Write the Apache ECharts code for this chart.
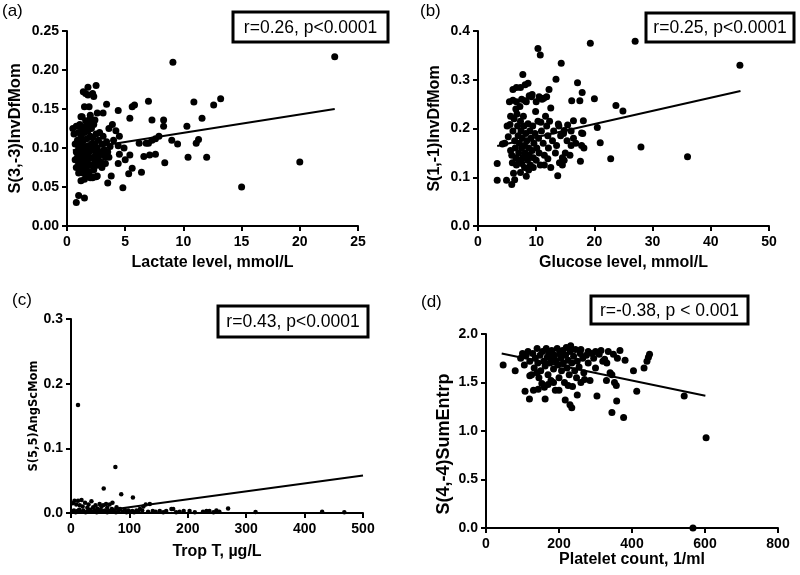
<!DOCTYPE html>
<html><head><meta charset="utf-8">
<script src="https://cdn.jsdelivr.net/npm/echarts@6/dist/echarts.min.js"></script>
<style>html,body{margin:0;padding:0;background:#fff}#c{width:800px;height:575px}</style>
</head><body><div id="c"></div>
<script>
// ---- Panel (a): Lactate vs S(3,-3)InvDfMom ----
const lactatePoints = [
[9.1,0.210],[23.0,0.217],[20.0,0.082],[15.0,0.050],
[13.2,0.163],[12.6,0.155],[11.6,0.138],[10.9,0.159],[11.3,0.111],[11.1,0.106],[12.0,0.088],[10.4,0.088],[9.5,0.105],[10.3,0.128],[9.0,0.110],[8.4,0.081],[8.3,0.128],[8.3,0.136],[7.6,0.092],[7.1,0.091],[6.6,0.089],[6.4,0.069],[6.2,0.106],[7.0,0.106],[7.3,0.110],[7.0,0.160],[7.3,0.136],[7.9,0.115],[7.6,0.112],[6.8,0.106],
[5.6,0.153],[5.8,0.155],[5.4,0.138],[4.4,0.148],[3.4,0.156],[3.1,0.145],[4.8,0.049],[5.4,0.091],[5.6,0.074],[5.3,0.067],[4.4,0.080],[4.5,0.092],[4.4,0.103],[3.8,0.064],[3.5,0.055],[4.0,0.110],[4.2,0.122],[3.6,0.125],[3.9,0.130],[4.5,0.115],[4.9,0.100],[5.0,0.085],[3.3,0.088],[3.0,0.075],
[1.0,0.039],[1.5,0.036],[0.8,0.030],[2.5,0.063],[2.2,0.062],
[1.4,0.172],[1.8,0.178],[2.5,0.180],[1.6,0.170],[1.8,0.168],[2.2,0.170],[2.3,0.166],[1.5,0.153],[1.9,0.153],[1.2,0.140],[2.0,0.142],[2.6,0.145],[1.6,0.135],[2.4,0.136],
[0.6,0.118],[0.7,0.105],[0.8,0.095],[0.7,0.085],[0.8,0.075],[0.9,0.110],[0.9,0.088],[1.0,0.120],[1.0,0.100],[1.0,0.080],[1.0,0.068],[1.1,0.130],[1.1,0.092],[1.1,0.073],[1.2,0.115],[1.2,0.105],[1.2,0.085],[1.2,0.058],[1.3,0.125],[1.3,0.097],[1.3,0.078],[1.4,0.110],[1.4,0.090],[1.4,0.068],[1.5,0.120],[1.5,0.102],[1.5,0.083],[1.5,0.060],[1.6,0.128],[1.6,0.095],[1.6,0.075],[1.7,0.112],[1.7,0.088],[1.7,0.065],[1.8,0.122],[1.8,0.103],[1.8,0.080],[1.9,0.132],[1.9,0.095],[1.9,0.070],[2.0,0.115],[2.0,0.087],[2.0,0.062],[2.1,0.125],[2.1,0.105],[2.1,0.078],[2.2,0.097],[2.2,0.113],[2.3,0.130],[2.3,0.088],[2.3,0.072],[2.4,0.105],[2.4,0.082],[2.5,0.118],[2.5,0.093],[2.6,0.100],[2.6,0.078],[2.7,0.110],[2.7,0.088],[2.8,0.120],[2.8,0.095],[2.9,0.082],[3.0,0.105],[3.0,0.092],[3.1,0.115],[3.2,0.098],[3.3,0.080],[3.4,0.108],[3.5,0.095],[3.6,0.088],[3.7,0.102],[2.2,0.063],[2.6,0.064],[1.3,0.140],[0.8,0.128],[2.0,0.138],[0.5,0.125]
];
const lactateFit = [[0.5,0.097],[23.0,0.150]];

// ---- Panel (b): Glucose vs S(1,-1)InvDfMom ----
const glucosePoints = [
[19.3,0.375],[27.0,0.379],[45.0,0.330],[36.0,0.142],[28.0,0.162],[22.8,0.138],[21.0,0.171],[20.5,0.202],[20.0,0.261],[24.9,0.236],[23.7,0.247],[17.1,0.294],[17.9,0.274],[10.3,0.364],[10.7,0.351],[14.3,0.334],[13.4,0.301],[7.7,0.311],
[16.1,0.257],[17.5,0.257],[12.2,0.280],[12.5,0.242],[13.8,0.209],[15.4,0.207],[16.4,0.216],[18.1,0.216],[17.8,0.191],[14.8,0.196],
[5.2,0.183],[4.6,0.170],[4.2,0.168],[3.3,0.128],[3.3,0.094],[4.9,0.094],[5.8,0.085],[6.1,0.108],[8.3,0.102],[13.7,0.103],
[5.5,0.208],[5.0,0.205],[5.6,0.155],[5.8,0.145],[5.9,0.130],[6.0,0.195],[6.2,0.220],[6.3,0.175],[6.4,0.160],[6.5,0.140],[6.6,0.125],[6.7,0.230],[6.8,0.205],[6.9,0.185],[7.0,0.150],[7.0,0.135],[7.1,0.170],[7.2,0.245],[7.3,0.215],[7.4,0.195],[7.5,0.160],[7.5,0.128],[7.6,0.180],[7.7,0.140],[7.8,0.225],[7.9,0.205],[8.0,0.165],[8.0,0.120],[8.1,0.150],[8.2,0.190],[8.3,0.255],[8.4,0.175],[8.5,0.135],[8.6,0.210],[8.7,0.160],[8.8,0.145],[8.9,0.195],[9.0,0.125],[9.1,0.180],[9.2,0.265],[9.3,0.155],[9.4,0.205],[9.5,0.140],[9.6,0.170],[9.8,0.190],[10.0,0.135],[10.1,0.160],[10.3,0.215],[10.4,0.180],[10.5,0.150],[10.7,0.125],[10.9,0.195],[11.0,0.260],[11.2,0.170],[11.4,0.145],[11.6,0.225],[11.8,0.265],[12.0,0.185],[12.1,0.160],[12.3,0.215],[12.5,0.120],[12.8,0.175],[13.0,0.195],[13.3,0.150],[13.5,0.165],[14.0,0.130],[14.2,0.185],[14.5,0.140],[14.8,0.135],[15.0,0.150],[15.3,0.175],[16.0,0.165],[16.4,0.180],[17.6,0.133],[17.8,0.165],[18.2,0.160],[16.8,0.170],[18.0,0.190],
[6.0,0.280],[6.6,0.284],[7.3,0.284],[8.1,0.290],[8.6,0.293],[6.0,0.258],[6.6,0.255],[7.5,0.260],[8.1,0.257],[8.8,0.267],[9.3,0.270],[10.0,0.255],[10.5,0.265],[11.3,0.262],
[6.5,0.240],[5.4,0.255],[5.6,0.225],[9.9,0.235],[10.8,0.213],[11.8,0.205],[13.9,0.205],[14.7,0.190],[16.0,0.195],[7.3,0.110],[8.7,0.115],[9.5,0.120],[11.4,0.125],[12.0,0.138],[14.5,0.125],[15.8,0.145],[6.3,0.095]
];
const glucoseFit = [[3.3,0.164],[45.1,0.277]];

// ---- Panel (c): Trop T vs S(5,5)AngScMom ----
const tropPoints = [
[12,0.167],[76,0.071],[56,0.038],[86,0.029],[106,0.024],[269,0.007],[316,0.0015],[430,0.002],[468,0.001],
[6,0.019],[12,0.019],[18,0.020],[24,0.016],[30,0.013],[35,0.018],[42,0.012],[49,0.014],[55,0.012],[60,0.014],[66,0.013],[71,0.016],[3,0.015],[15,0.012],[9,0.013],[20,0.010],[28,0.008],[38,0.009],[45,0.007],[52,0.010],[62,0.008],[70,0.006],[78,0.009],[84,0.006],[92,0.005],[98,0.004],[105,0.003],[112,0.004],[118,0.006],[124,0.010],[128,0.013],[135,0.014],[122,0.004],[132,0.002],
[2,0.002],[5,0.004],[8,0.001],[11,0.003],[14,0.005],[17,0.002],[21,0.004],[25,0.001],[29,0.003],[33,0.005],[36,0.002],[40,0.004],[44,0.001],[48,0.003],[51,0.005],[55,0.002],[58,0.004],[62,0.001],[66,0.003],[69,0.002],[73,0.004],[77,0.001],[81,0.003],[88,0.002],[95,0.001],[102,0.002],[108,0.001],[115,0.002],
[140,0.003],[152,0.003],[163,0.003],[172,0.006],[175,0.006],[186,0.002],[193,0.003],[203,0.003],[232,0.003],[237,0.003],[249,0.004],[254,0.002],[145,0.002],[158,0.001],[180,0.001],[212,0.001],[226,0.002],[244,0.001]
];
const tropFit = [[27,0.0],[500,0.058]];

// ---- Panel (d): Platelet count vs S(4,-4)SumEntrp ----
const plateletPoints = [
[567,0.0],[603,0.93],[543,1.36],[377,1.14],[345,1.19],[358,1.31],[413,1.41],[404,1.62],[433,1.65],[441,1.72],[448,1.79],[445,1.76],[381,1.73],[367,1.83],[349,1.79],[331,1.70],[47,1.68],[80,1.62],[107,1.41],[119,1.33],[162,1.33],[143,1.43],[153,1.49],[217,1.32],[230,1.27],[235,1.24],[250,1.37],[304,1.36],[330,1.52],[352,1.50],[357,1.47],[340,1.60],[360,1.75],[335,1.82],[300,1.82],[310,1.79],[290,1.80],[325,1.74],[345,1.58],
[95,1.75],[105,1.68],[110,1.78],[115,1.82],[120,1.72],[125,1.58],[128,1.80],[132,1.65],[135,1.75],[140,1.85],[142,1.70],[145,1.55],[148,1.78],[150,1.62],[155,1.82],[158,1.72],[160,1.45],[162,1.67],[165,1.85],[168,1.76],[170,1.58],[172,1.80],[175,1.70],[178,1.52],[180,1.83],[182,1.75],[185,1.64],[188,1.78],[190,1.42],[192,1.72],[195,1.85],[197,1.68],[200,1.55],[202,1.80],[205,1.75],[207,1.62],[210,1.83],[212,1.70],[215,1.50],[218,1.78],[220,1.86],[222,1.65],[225,1.73],[228,1.58],[230,1.82],[232,1.88],[235,1.70],[237,1.46],[240,1.77],[243,1.62],[245,1.84],[248,1.55],[250,1.72],[255,1.66],[258,1.80],[260,1.50],[265,1.75],[268,1.60],[270,1.53],[275,1.78],[280,1.70],[285,1.52],[295,1.75],[200,1.42],[185,1.50],[120,1.57],[140,1.60],[170,1.48],[260,1.84],[280,1.82],[315,1.83],[320,1.72],[130,1.42],[225,1.47],[300,1.65],[100,1.80]
];
const plateletFit = [[43,1.80],[601,1.364]];

// ---- text ----
const panelLetters = ['(a)','(b)','(c)','(d)'];
const statLabels = ['r=0.26, p<0.0001','r=0.25, p<0.0001','r=0.43, p<0.0001','r=-0.38, p < 0.001'];
const xNames = ['Lactate level, mmol/L','Glucose level, mmol/L','Trop T, \u00b5g/L','Platelet count, 1/ml'];
const yNames = ['S(3,-3)InvDfMom','S(1,-1)InvDfMom','S(5,5)AngScMom','S(4,-4)SumEntrp'];
const xRanges = [[0,25,5],[0,50,10],[0,500,100],[0,800,200]];
const yRanges = [[0,0.25,0.05,2],[0,0.4,0.1,1],[0,0.3,0.1,1],[0,2,0.5,1]];

const FONT = '"Liberation Sans", Arial, sans-serif';
const grids = [
  {left:67, top:31, width:291, height:195},
  {left:478, top:31, width:291, height:195},
  {left:71, top:319, width:292, height:194},
  {left:486, top:334, width:292, height:194}
];
const yNameFont = [16.5, 16, 11.5, 18];
const yGaps = [43, 35, 30, 33];
const yPads = [[0,0,0,0],[0,0,0,0],[0,0,0,0],[0,26,0,0]];
const xGaps = [29, 29, 31, 22];
const boxes = [
  {x:233, y:12, w:155, h:30},
  {x:646, y:13, w:148, h:29},
  {x:218, y:306, w:150, h:31},
  {x:591, y:296, w:157, h:28}
];
const letterPos = [[2,3],[420,3],[12,292],[421,294]];

const xAxes = xRanges.map((r,i)=>({
  type:'value', gridIndex:i, min:r[0], max:r[1], interval:r[2],
  axisLine:{show:true, onZero:false, lineStyle:{color:'#000', width:2}},
  axisTick:{show:true, length:5, lineStyle:{color:'#000', width:2}},
  splitLine:{show:false},
  axisLabel:{color:'#000', fontFamily:FONT, fontWeight:'bold', fontSize:14, margin:9},
  name:xNames[i], nameLocation:'middle', nameGap:xGaps[i],
  nameTextStyle:{color:'#000', fontFamily:FONT, fontWeight:'bold', fontSize:16}
}));
const yAxes = yRanges.map((r,i)=>({
  type:'value', gridIndex:i, min:r[0], max:r[1], interval:r[2],
  axisLine:{show:true, onZero:false, lineStyle:{color:'#000', width:2}},
  axisTick:{show:true, length:5, lineStyle:{color:'#000', width:2}},
  splitLine:{show:false},
  axisLabel:{color:'#000', fontFamily:FONT, fontWeight:'bold', fontSize:14, margin:8,
    formatter:(v)=>v.toFixed(r[3])},
  name:yNames[i], nameLocation:'middle', nameGap:yGaps[i],
  nameTextStyle:{color:'#000', fontFamily: i===2 ? '"DejaVu Sans", sans-serif' : FONT,
    fontWeight:'bold', fontSize:yNameFont[i], padding:yPads[i]}
}));

const pointSets = [lactatePoints, glucosePoints, tropPoints, plateletPoints];
const fitSets = [lactateFit, glucoseFit, tropFit, plateletFit];
const series = [];
pointSets.forEach((pts,i)=>{
  series.push({type:'scatter', xAxisIndex:i, yAxisIndex:i, data:pts, clip:false,
    symbol:'circle', symbolSize: i===2 ? 4.5 : 7, itemStyle:{color:'#000', opacity:1}, silent:true});
  series.push({type:'line', xAxisIndex:i, yAxisIndex:i, data:fitSets[i], showSymbol:false, symbol:'none',
    lineStyle:{color:'#000', width:2}, silent:true, z:3});
});

const graphics = [];
boxes.forEach((b,i)=>{
  graphics.push({type:'rect', shape:{x:b.x, y:b.y, width:b.w, height:b.h},
    style:{fill:'#fff', stroke:'#000', lineWidth:3}, z:10});
  graphics.push({type:'text', x:b.x+b.w/2, y:b.y+b.h/2+1,
    style:{text:statLabels[i], fill:'#000', font:'17.5px "Liberation Sans", Arial, sans-serif', textAlign:'center', textVerticalAlign:'middle'}, z:11});
});
panelLetters.forEach((t,i)=>{
  graphics.push({type:'text', x:letterPos[i][0], y:letterPos[i][1],
    style:{text:t, fill:'#000', font:'17px "Liberation Sans", Arial, sans-serif', textAlign:'left', textVerticalAlign:'top'}, z:11});
});

const chart = echarts.init(document.getElementById('c'), null, {renderer:'canvas'});
chart.setOption({
  animation:false,
  backgroundColor:'#fff',
  grid:grids,
  xAxis:xAxes,
  yAxis:yAxes,
  series:series,
  graphic:graphics
});
</script></body></html>
